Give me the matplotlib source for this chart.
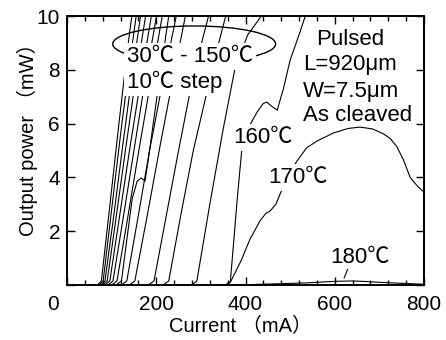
import matplotlib
matplotlib.use("Agg")
import matplotlib.pyplot as plt
from matplotlib.patches import Ellipse
from matplotlib.ticker import MultipleLocator, FixedLocator

plt.rcParams['font.family'] = ['Liberation Sans', 'Noto Sans CJK JP']

# L-I curves, current in mA and output power in mW
i30 = [68, 77, 95, 115, 135, 150]
p30 = [0, 0.15, 2.8, 5.8, 8.7, 10.6]
i40 = [72, 81, 100, 120, 140, 160]
p40 = [0, 0.15, 2.8, 5.6, 8.2, 10.6]
i50 = [76, 85, 105, 125, 145, 170]
p50 = [0, 0.15, 2.6, 5.2, 7.7, 10.6]
i60 = [80, 90, 110, 130, 155, 180]
p60 = [0, 0.15, 2.5, 4.9, 7.8, 10.4]
i70 = [85, 96, 120, 140, 165, 195]
p70 = [0, 0.15, 2.8, 5.0, 7.6, 10.6]
i80 = [92, 103, 125, 150, 175, 205]
p80 = [0, 0.15, 2.4, 5.0, 7.6, 10.4]
i90 = [100, 112, 135, 160, 190, 220]
p90 = [0, 0.15, 2.4, 4.9, 7.8, 10.6]
i100 = [110, 122, 146, 157, 166, 175, 177, 182, 205, 235]
p100 = [0, 0.15, 3.2, 3.85, 3.98, 3.87, 4.1, 4.65, 7.4, 10.8]
i110 = [122, 134, 160, 185, 215, 255]
p110 = [0, 0.15, 2.6, 5.0, 7.6, 10.8]
i120 = [140, 152, 180, 210, 240, 275]
p120 = [0, 0.15, 2.6, 5.3, 7.9, 10.8]
i130 = [182, 195, 225, 250, 276, 300, 325]
p130 = [0, 0.15, 2.8, 5.0, 7.2, 8.9, 10.5]
i140 = [215, 228, 255, 283, 314, 340, 365]
p140 = [0, 0.15, 2.6, 5.0, 7.2, 9.0, 10.6]
i150 = [280, 291, 320, 350, 377, 405, 440]
p150 = [0, 0.15, 3.0, 5.8, 8.1, 9.3, 10.1]
i160 = [355, 366, 373, 382, 392, 405, 426, 440, 448, 458, 471, 485, 500, 520, 540]
p160 = [0, 0.12, 1.5, 3.3, 5.08, 5.8, 6.43, 6.75, 6.8, 6.65, 6.5, 7.3, 8.36, 9.3, 10.3]
i170 = [355, 366, 390, 410, 433, 445, 455, 468, 478, 500, 515, 537, 560, 597,
        630, 657, 685, 709, 724, 739, 754, 769, 784, 800]
p170 = [0, 0.1, 0.9, 1.7, 2.4, 2.65, 2.75, 3.0, 3.4, 4.2, 4.6, 5.1, 5.35, 5.65,
        5.82, 5.87, 5.8, 5.62, 5.45, 5.15, 4.65, 4.0, 3.7, 3.45]
i180 = [360, 420, 480, 540, 580, 610, 640, 670, 700, 740, 780, 800]
p180 = [0, 0.02, 0.05, 0.08, 0.12, 0.14, 0.15, 0.13, 0.1, 0.07, 0.04, 0.03]

curves = [(i30, p30), (i40, p40), (i50, p50), (i60, p60), (i70, p70),
          (i80, p80), (i90, p90), (i100, p100), (i110, p110), (i120, p120),
          (i130, p130), (i140, p140), (i150, p150), (i160, p160),
          (i170, p170), (i180, p180)]

fig = plt.figure(figsize=(4.46, 3.40), dpi=100)
ax = fig.add_axes([67 / 446, 1 - 285 / 340, 357 / 446, 269 / 340])

for cur, pw in curves:
    ax.plot(cur, pw, color='black', lw=0.8, zorder=2)

ax.set_xlim(0, 800)
ax.set_ylim(0, 10)

ax.xaxis.set_major_locator(FixedLocator([0, 200, 400, 600, 800]))
ax.xaxis.set_minor_locator(MultipleLocator(40))
ax.set_xticklabels(['', '200', '400', '600', '800'])
ax.yaxis.set_major_locator(FixedLocator([0, 2, 4, 6, 8, 10]))
ax.set_yticklabels(['', '2', '4', '6', '8', '10'])

ax.tick_params(axis='both', which='both', direction='in', top=True, right=True,
               labelsize=15, width=1.0, color='black')
ax.tick_params(axis='x', which='major', length=6, pad=7)
ax.tick_params(axis='x', which='minor', length=3.8)
ax.tick_params(axis='y', which='major', length=6, pad=5)
for sp in ax.spines.values():
    sp.set_linewidth(1.4)

fig.text(53 / 446, 1 - 304 / 340, '0', ha='center', va='center', fontsize=15)

ax.set_xlabel('Current （mA）', fontsize=14.5)
ax.set_ylabel('Output power （mW）', fontsize=14.5)
ax.xaxis.set_label_coords((241 - 67) / 357, (285 - 326) / 269)
ax.yaxis.set_label_coords((27 - 67) / 357, (285 - 135) / 269)
ax.xaxis.label.set_va('center')
ax.yaxis.label.set_va('center')

ell = Ellipse((285, 8.96), 365, 1.34, facecolor='none', edgecolor='black',
              lw=1.0, zorder=3)
ax.add_patch(ell)

box = dict(facecolor='white', edgecolor='none', pad=2.0)
fs = 16
ax.text(134, 8.29, '30℃ - 150℃', fontsize=fs, ha='left', va='baseline',
        bbox=box, zorder=4)
ax.text(134, 7.32, '10℃ step', fontsize=fs, ha='left', va='baseline',
        bbox=box, zorder=4)
ax.text(372, 5.28, '160℃', fontsize=fs, ha='left', va='baseline',
        bbox=box, zorder=4)
ax.text(450, 3.79, '170℃', fontsize=fs, ha='left', va='baseline',
        bbox=box, zorder=4)
ax.text(589, 0.82, '180℃', fontsize=fs, ha='left', va='baseline',
        bbox=dict(facecolor='white', edgecolor='none', pad=0.5), zorder=4)
ax.plot([630, 621], [0.63, 0.26], color='black', lw=0.8, zorder=3)

ax.text(634, 8.92, 'Pulsed', fontsize=fs, ha='center', va='baseline', zorder=4)
ax.text(529, 7.99, 'L=920μm', fontsize=fs, ha='left', va='baseline', zorder=4)
ax.text(529, 7.00, 'W=7.5μm', fontsize=fs, ha='left', va='baseline', zorder=4)
ax.text(529, 6.11, 'As cleaved', fontsize=fs, ha='left', va='baseline', zorder=4)

fig.savefig('out.png', dpi=100)
